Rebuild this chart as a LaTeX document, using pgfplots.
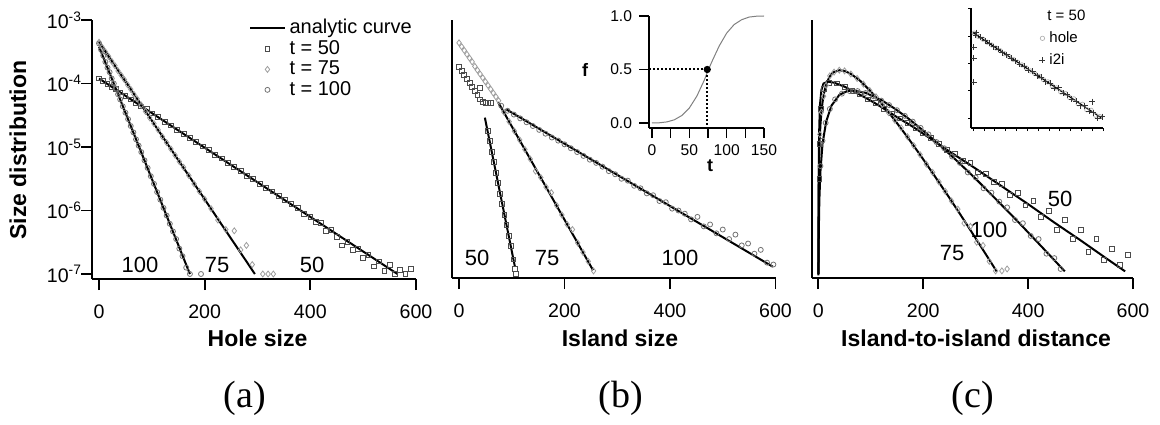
\documentclass[border=0pt]{standalone}
\usepackage{fontspec}
\setmainfont{Liberation Sans}
\newfontfamily\seriffont{Liberation Serif}
\usepackage{pgfplots}
\pgfplotsset{compat=1.18}
\definecolor{sqc}{gray}{0.3}
\definecolor{dic}{gray}{0.62}
\definecolor{cic}{gray}{0.45}
\pgfplotsset{
 psq/.style={only marks, mark=square, mark size=1.2pt, mark options={draw=sqc, line width=0.4pt}},
 pdi/.style={only marks, mark=diamond, mark size=1.5pt, mark options={draw=dic, line width=0.4pt}},
 pci/.style={only marks, mark=o, mark size=1.25pt, mark options={draw=cic, line width=0.4pt}},
 pfit/.style={black, line width=1pt, no marks},
}
\begin{document}
\begin{tikzpicture}
\useasboundingbox (0,0) rectangle (580pt,212pt);
% ---------------- panel (a)
\begin{axis}[ymode=log, scale only axis, anchor=south west, at={(46pt,72.5pt)}, width=162pt, height=129.5pt,
  axis lines=left, axis line style={-, line width=1pt}, tick align=outside,
  major tick length=5.5pt, tick style={black, line width=0.9pt},
  xtick={0,200,400,600}, xmin=-13.3, xmax=600, ymin=8.34e-8, ymax=1e-3, yminorticks=false,
  clip=false, xticklabel={\pgfmathprintnumber[assume math mode=true]{\tick}},
  tick label style={font=\fontsize{9.8}{10}\selectfont},
  xticklabel style={yshift=-4pt}, yticklabel style={xshift=4pt},
  ytick={1e-7,1e-6,1e-5,1e-4,1e-3},
  yticklabels={10\textsuperscript{-7},10\textsuperscript{-6},10\textsuperscript{-5},10\textsuperscript{-4},10\textsuperscript{-3}},
  legend style={draw=none, fill=none, at={(0.466,1.035)}, anchor=north west,
    font=\fontsize{10}{10}\selectfont, row sep=-2.2pt}, legend cell align=left]
\addplot[black, line width=1pt, no marks] coordinates {(0,1.2e-4) (565,1e-7)};
\addlegendentry{analytic curve}
\addplot[psq] coordinates {(0,1.20e-4) (8,1.10e-4) (16,1.00e-4) (24,8.91e-5) (32,8.13e-5) (40,7.24e-5) (50,6.46e-5) (60,5.62e-5) (70,5.01e-5) (80,4.37e-5) (90,3.98e-5) (100,3.39e-5) (112,2.95e-5) (124,2.51e-5) (136,2.19e-5) (148,1.86e-5) (160,1.62e-5) (172,1.38e-5) (184,1.20e-5) (196,1.02e-5) (208,8.91e-6) (220,7.59e-6) (232,6.61e-6) (244,5.62e-6) (256,4.90e-6) (268,4.17e-6) (280,3.55e-6) (292,3.16e-6) (304,2.63e-6) (316,2.29e-6) (328,2.00e-6) (340,1.70e-6) (352,1.48e-6) (364,1.26e-6) (376,1.10e-6) (388,8.91e-7) (400,7.94e-7) (410,6.61e-7) (420,6.31e-7) (430,4.79e-7) (440,5.01e-7) (450,3.80e-7) (460,2.82e-7) (470,3.16e-7) (480,2.40e-7) (490,2.51e-7) (500,1.78e-7) (510,2.00e-7) (520,1.32e-7) (530,1.58e-7) (540,1.12e-7) (550,1.41e-7) (560,1.00e-7) (570,1.17e-7) (580,1.00e-7) (590,1.20e-7)};
\addlegendentry{t = 50}
\addplot[pdi] coordinates {(0,4.47e-4) (6,3.72e-4) (12,3.16e-4) (18,2.69e-4) (24,2.24e-4) (30,1.91e-4) (36,1.58e-4) (42,1.35e-4) (48,1.15e-4) (54,9.55e-5) (60,8.13e-5) (66,6.76e-5) (72,5.75e-5) (80,4.57e-5) (88,3.63e-5) (96,2.88e-5) (104,2.34e-5) (112,1.86e-5) (120,1.45e-5) (128,1.17e-5) (136,9.33e-6) (144,7.41e-6) (152,5.89e-6) (160,4.79e-6) (170,3.55e-6) (180,2.63e-6) (190,2.00e-6) (200,1.51e-6) (212,1.07e-6) (225,7.08e-7) (240,5.01e-7) (256,4.79e-7) (268,2.40e-7) (279,2.82e-7) (290,1.41e-7) (310,1.00e-7) (320,1.00e-7) (330,1.00e-7)};
\addlegendentry{t = 75}
\addplot[pci] coordinates {(0,4.27e-4) (4,3.39e-4) (8,2.75e-4) (12,2.19e-4) (16,1.78e-4) (20,1.51e-4) (24,1.20e-4) (28,1.00e-4) (32,8.32e-5) (36,6.76e-5) (40,5.62e-5) (45,4.37e-5) (50,3.47e-5) (55,2.75e-5) (60,2.14e-5) (65,1.70e-5) (70,1.32e-5) (75,1.05e-5) (80,8.32e-6) (86,6.17e-6) (92,4.68e-6) (98,3.47e-6) (104,2.63e-6) (110,1.95e-6) (116,1.48e-6) (122,1.10e-6) (128,8.32e-7) (134,6.17e-7) (140,4.68e-7) (146,3.55e-7) (152,2.51e-7) (158,1.91e-7) (165,1.26e-7) (172,1.00e-7) (193,1.00e-7)};
\addlegendentry{t = 100}
\addplot[pfit, forget plot] coordinates {(0,4.5e-4) (295,1e-7)};
\addplot[pfit, forget plot] coordinates {(0,3.8e-4) (172,1e-7)};
\end{axis}
% ---------------- panel (b)
\begin{axis}[ymode=log, scale only axis, anchor=south west, at={(226pt,73pt)}, width=161.75pt, height=129pt,
  axis lines=left, axis line style={-, line width=1pt}, tick align=outside,
  major tick length=5.5pt, tick style={black, line width=0.9pt},
  xtick={0,200,400,600}, xmin=-13.3, xmax=600, ymin=8.65e-8, ymax=1e-3, yminorticks=false, ytick=\empty,
  clip=false, xticklabel={\pgfmathprintnumber[assume math mode=true]{\tick}},
  tick label style={font=\fontsize{9.8}{10}\selectfont}, xticklabel style={yshift=-4pt}]
\addplot[psq] coordinates {(0,1.82e-4) (5,1.58e-4) (10,1.38e-4) (15,1.17e-4) (20,1.02e-4) (25,8.71e-5) (30,7.59e-5) (35,6.61e-5) (40,5.62e-5) (45,5.13e-5) (50,5.01e-5) (55,4.90e-5) (60,5.01e-5) (40,8.5e-5) (54,1.78e-5) (58,1.23e-5) (62,8.32e-6) (66,5.75e-6) (70,3.89e-6) (74,2.69e-6) (78,1.82e-6) (82,1.26e-6) (86,8.51e-7) (90,5.89e-7) (94,3.98e-7) (98,2.75e-7) (103,1.70e-7) (106,1.20e-7) (108,1.0e-7)};
\addplot[pdi] coordinates {(0,4.37e-4) (5,3.80e-4) (10,3.31e-4) (15,2.88e-4) (20,2.51e-4) (25,2.19e-4) (30,1.86e-4) (35,1.62e-4) (40,1.41e-4) (45,1.23e-4) (50,1.07e-4) (55,9.33e-5) (60,8.13e-5) (65,7.08e-5) (70,6.17e-5) (75,5.37e-5) (85,3.55e-5) (95,2.51e-5) (105,1.78e-5) (115,1.29e-5) (125,9.12e-6) (135,6.46e-6) (145,4.17e-6) (155,3.31e-6) (165,2.34e-6) (175,1.91e-6) (185,1.20e-6) (195,8.51e-7) (205,6.03e-7) (215,5.01e-7) (225,3.09e-7) (235,2.19e-7) (245,1.58e-7) (255,1.12e-7)};
\addplot[pci] coordinates {(80,4.47e-5) (92,3.72e-5) (104,3.24e-5) (116,2.82e-5) (128,2.45e-5) (140,2.14e-5) (152,1.86e-5) (164,1.62e-5) (176,1.41e-5) (188,1.26e-5) (200,1.10e-5) (212,9.55e-6) (224,8.32e-6) (236,7.24e-6) (248,6.31e-6) (260,5.62e-6) (272,4.90e-6) (284,4.17e-6) (296,3.72e-6) (308,3.16e-6) (320,2.95e-6) (332,2.45e-6) (344,2.24e-6) (356,1.86e-6) (368,1.74e-6) (380,1.41e-6) (392,1.35e-6) (404,1.07e-6) (416,1.00e-6) (428,8.91e-7) (440,7.24e-7) (452,7.94e-7) (464,5.62e-7) (476,6.03e-7) (488,4.37e-7) (500,5.01e-7) (512,3.55e-7) (524,4.17e-7) (536,2.82e-7) (548,3.02e-7) (560,2.09e-7) (572,2.40e-7) (584,1.51e-7) (596,1.41e-7)};
\addplot[pfit] coordinates {(49,2.9e-5) (106,1.3e-7)};
\addplot[pfit] coordinates {(74,5.1e-5) (254,1.15e-7)};
\addplot[pfit] coordinates {(90,3.9e-5) (595,1.3e-7)};
\end{axis}
% ---------------- panel (c)
\begin{axis}[ymode=log, scale only axis, anchor=south west, at={(406pt,73pt)}, width=160.5pt, height=129pt,
  axis lines=left, axis line style={-, line width=1pt}, tick align=outside,
  major tick length=5.5pt, tick style={black, line width=0.9pt},
  xtick={0,200,400,600}, xmin=-12, xmax=600, ymin=8.65e-8, ymax=1e-3, yminorticks=false, ytick=\empty,
  clip=false, xticklabel={\pgfmathprintnumber[assume math mode=true]{\tick}},
  tick label style={font=\fontsize{9.8}{10}\selectfont}, xticklabel style={yshift=-4pt}]
\addplot[psq] coordinates {(2,3.16e-6) (3,1.12e-5) (5,3.98e-5) (10,8.32e-5) (20,1.02e-4) (35,1.00e-4) (50,8.71e-5) (65,7.59e-5) (80,6.76e-5) (95,5.62e-5) (110,4.90e-5) (125,3.98e-5) (140,3.39e-5) (155,2.82e-5) (170,2.40e-5) (185,2.00e-5) (200,1.66e-5) (215,1.38e-5) (230,1.12e-5) (245,8.91e-6) (260,7.94e-6) (275,6.03e-6) (290,5.62e-6) (305,3.98e-6) (320,3.80e-6) (335,2.82e-6) (350,2.63e-6) (365,1.78e-6) (380,1.91e-6) (395,1.20e-6) (410,1.41e-6) (425,7.94e-7) (440,1.00e-6) (455,5.01e-7) (470,7.08e-7) (485,3.55e-7) (500,5.01e-7) (515,2.24e-7) (530,3.55e-7) (545,1.66e-7) (560,2.51e-7) (575,1.41e-7) (590,2.00e-7)};
\addplot[pci] coordinates {(4,5.01e-6) (8,1.26e-5) (14,2.40e-5) (22,3.98e-5) (32,5.62e-5) (45,6.92e-5) (60,7.59e-5) (75,7.59e-5) (90,7.08e-5) (105,6.31e-5) (120,5.37e-5) (135,4.57e-5) (150,3.80e-5) (165,3.09e-5) (180,2.51e-5) (195,2.00e-5) (210,1.58e-5) (225,1.20e-5) (240,9.55e-6) (255,7.08e-6) (270,5.62e-6) (285,3.98e-6) (300,3.31e-6) (315,2.24e-6) (330,1.91e-6) (345,1.38e-6) (360,1.12e-6) (375,7.08e-7) (390,6.31e-7) (405,3.98e-7) (420,3.55e-7) (435,2.09e-7) (450,1.78e-7) (462,1.20e-7)};
\addplot[pdi] coordinates {(3,1.58e-5) (6,3.55e-5) (10,6.31e-5) (15,9.33e-5) (22,1.32e-4) (30,1.51e-4) (40,1.62e-4) (50,1.58e-4) (62,1.41e-4) (74,1.20e-4) (86,9.77e-5) (98,7.76e-5) (110,6.17e-5) (122,4.68e-5) (134,3.47e-5) (146,2.63e-5) (158,2.00e-5) (170,1.45e-5) (182,1.05e-5) (194,7.59e-6) (206,5.37e-6) (218,3.98e-6) (230,2.82e-6) (242,2.00e-6) (254,1.41e-6) (266,1.05e-6) (278,6.31e-7) (290,5.62e-7) (302,3.16e-7) (314,2.82e-7) (326,1.58e-7) (338,1.12e-7) (350,1.12e-7) (360,1.20e-7)};
\addplot[pfit] coordinates {(0.08,1.00e-7) (0.15,2.45e-7) (0.3,6.46e-7) (0.6,1.70e-6) (1,3.39e-6) (1.4,5.41e-6) (2,8.71e-6) (3,1.50e-5) (4,2.19e-5) (6,3.59e-5) (8,5.01e-5) (11,7.11e-5) (15,9.55e-5) (20,1.21e-4) (25,1.41e-4) (30,1.52e-4) (41,1.62e-4) (50,1.57e-4) (60,1.45e-4) (70,1.27e-4) (80,1.10e-4) (100,7.50e-5) (115,5.46e-5) (130,3.89e-5) (150,2.38e-5) (170,1.43e-5) (195,7.35e-6) (220,3.68e-6) (250,1.58e-6) (280,6.61e-7) (310,2.71e-7) (340,1.10e-7)};
\addplot[pfit] coordinates {(0.3,1.0e-7) (0.8,2.51e-6) (1.5,1.58e-5) (3,4.47e-5) (6,7.94e-5) (10,1.00e-4) (18,1.07e-4) (30,1.03e-4) (50,8.91e-5) (80,6.61e-5) (100,5.37e-5) (120,4.27e-5) (150,2.95e-5) (180,2.09e-5) (200,1.62e-5) (250,8.51e-6) (300,4.57e-6) (350,2.40e-6) (400,1.26e-6) (450,6.46e-7) (500,3.39e-7) (550,1.74e-7) (585,1.10e-7)};
\addplot[pfit] coordinates {(0.35,9.55e-8) (0.6,2.24e-7) (1,4.90e-7) (2,1.45e-6) (4,4.07e-6) (8,1.12e-5) (15,2.51e-5) (25,4.47e-5) (40,6.61e-5) (55,7.59e-5) (66,7.76e-5) (90,7.14e-5) (120,5.50e-5) (145,4.06e-5) (170,2.88e-5) (200,1.81e-5) (230,1.10e-5) (265,5.97e-6) (300,3.16e-6) (340,1.47e-6) (380,6.76e-7) (425,2.74e-7) (470,1.10e-7)};
\end{axis}
% ---------------- inset (b)
\begin{axis}[scale only axis, anchor=south west, at={(324.5pt,148pt)}, width=57.5pt, height=56pt,
  axis lines=left, axis line style={-, line width=0.9pt}, xmin=-4, xmax=150, ymin=-0.047, ymax=1,
  xtick={0,50,100,150}, minor xtick={25,75,125}, ytick={0,0.5,1}, yticklabels={0.0,0.5,1.0},
  xticklabel={\pgfmathprintnumber[assume math mode=true]{\tick}},
  tick align=outside, major tick length=5pt, minor tick length=5pt, tick style={black, line width=0.8pt},
  tick label style={font=\fontsize{7.8}{8}\selectfont}, clip=false]
\addplot[gray, line width=0.5pt] coordinates {(0,0) (10,0.002) (20,0.01) (30,0.03) (40,0.07) (50,0.14) (60,0.25) (70,0.40) (75,0.49) (80,0.57) (90,0.72) (100,0.84) (110,0.92) (120,0.965) (130,0.99) (140,0.998) (150,1.0)};
\addplot[densely dotted, line width=1pt] coordinates {(-4,0.5) (74,0.5) (74,-0.047)};
\addplot[only marks, mark=*, mark size=1.6pt] coordinates {(74,0.5)};
\end{axis}
% ---------------- inset (c)
\begin{axis}[ymode=log, scale only axis, anchor=south west, at={(485.5pt,148pt)}, width=66pt, height=60pt,
  axis lines=left, axis line style={-, line width=0.9pt}, xmin=-10, xmax=600, ymin=4.3e-8, ymax=1.05e-3,
  xtick={0,50,...,600}, xticklabels={}, ytick={1e-7,1e-6,1e-5,1e-4,1e-3}, yticklabels={}, yminorticks=false,
  tick align=outside, major tick length=1.5pt, tick style={black, line width=0.4pt}, clip=false,
  legend style={draw=none, fill=none, at={(0.47,0.875)}, anchor=north west, font=\fontsize{7.5}{8}\selectfont, row sep=0pt},
  legend cell align=left]
\addplot[only marks, mark=o, mark size=1.1pt, mark options={draw=gray!60, line width=0.35pt}] coordinates {(5,1.26e-4) (25,9.55e-5) (45,7.59e-5) (65,5.89e-5) (85,4.68e-5) (105,3.63e-5) (125,2.88e-5) (145,2.24e-5) (165,1.78e-5) (185,1.38e-5) (205,1.10e-5) (225,8.71e-6) (245,6.76e-6) (265,5.25e-6) (285,4.17e-6) (305,3.31e-6) (325,2.51e-6) (345,2.09e-6) (365,1.51e-6) (385,1.26e-6) (405,8.91e-7) (425,7.94e-7) (445,5.62e-7) (465,5.01e-7) (485,3.31e-7) (505,3.16e-7) (525,2.00e-7) (545,1.91e-7) (565,1.26e-7) (585,1.12e-7)};
\addlegendentry{hole}
\addplot[only marks, mark=+, mark size=1.5pt, mark options={draw=black!80, line width=0.4pt}] coordinates {(2,3.80e-5) (3,1.51e-5) (2,2.00e-6) (12,1.07e-4) (15,1.32e-4) (35,8.91e-5) (55,6.61e-5) (75,5.37e-5) (95,3.98e-5) (115,3.31e-5) (135,2.45e-5) (155,2.09e-5) (175,1.51e-5) (195,1.26e-5) (215,9.33e-6) (235,7.94e-6) (255,5.62e-6) (275,5.01e-6) (295,3.55e-6) (315,3.16e-6) (335,2.09e-6) (355,1.91e-6) (375,1.20e-6) (395,1.26e-6) (415,7.94e-7) (435,7.08e-7) (455,4.79e-7) (475,4.17e-7) (495,2.82e-7) (515,2.82e-7) (535,1.78e-7) (550,3.98e-7) (555,1.58e-7) (575,1.00e-7) (595,1.12e-7)};
\addlegendentry{i2i}
\addplot[black, line width=0.6pt, forget plot] coordinates {(0,1.31e-4) (595,9.8e-8)};
\end{axis}
% ---------------- text
\node[font=\fontsize{7.5}{8}\selectfont, anchor=west, inner sep=0pt] at (523.5pt,204.5pt) {t = 50};
\node[font=\bfseries\fontsize{11.5}{12}\selectfont, rotate=90] at (9pt,137pt) {Size distribution};
\node[font=\bfseries\fontsize{11.5}{12}\selectfont] at (128.75pt,43pt) {Hole size};
\node[font=\bfseries\fontsize{11.5}{12}\selectfont] at (310pt,43pt) {Island size};
\node[font=\bfseries\fontsize{11.5}{12}\selectfont] at (488pt,43pt) {Island-to-island distance};
\node[font=\seriffont\fontsize{19}{20}\selectfont] at (122.5pt,13pt) {(a)};
\node[font=\seriffont\fontsize{19}{20}\selectfont] at (310.5pt,13pt) {(b)};
\node[font=\seriffont\fontsize{19}{20}\selectfont] at (486.5pt,13pt) {(c)};
\node[font=\fontsize{11}{12}\selectfont] at (70pt,79.5pt) {100};
\node[font=\fontsize{11}{12}\selectfont] at (108.5pt,79.5pt) {75};
\node[font=\fontsize{11}{12}\selectfont] at (156pt,79.5pt) {50};
\node[font=\fontsize{11}{12}\selectfont] at (238.5pt,83pt) {50};
\node[font=\fontsize{11}{12}\selectfont] at (273.5pt,83pt) {75};
\node[font=\fontsize{11}{12}\selectfont] at (340pt,83pt) {100};
\node[font=\fontsize{11}{12}\selectfont] at (530pt,112.5pt) {50};
\node[font=\fontsize{11}{12}\selectfont] at (494.5pt,97pt) {100};
\node[font=\fontsize{11}{12}\selectfont] at (476pt,85.5pt) {75};
\node[font=\bfseries\fontsize{9}{10}\selectfont] at (292.5pt,177pt) {f};
\node[font=\bfseries\fontsize{9}{10}\selectfont, inner sep=1pt] at (355pt,129pt) {t};
\end{tikzpicture}
\end{document}
